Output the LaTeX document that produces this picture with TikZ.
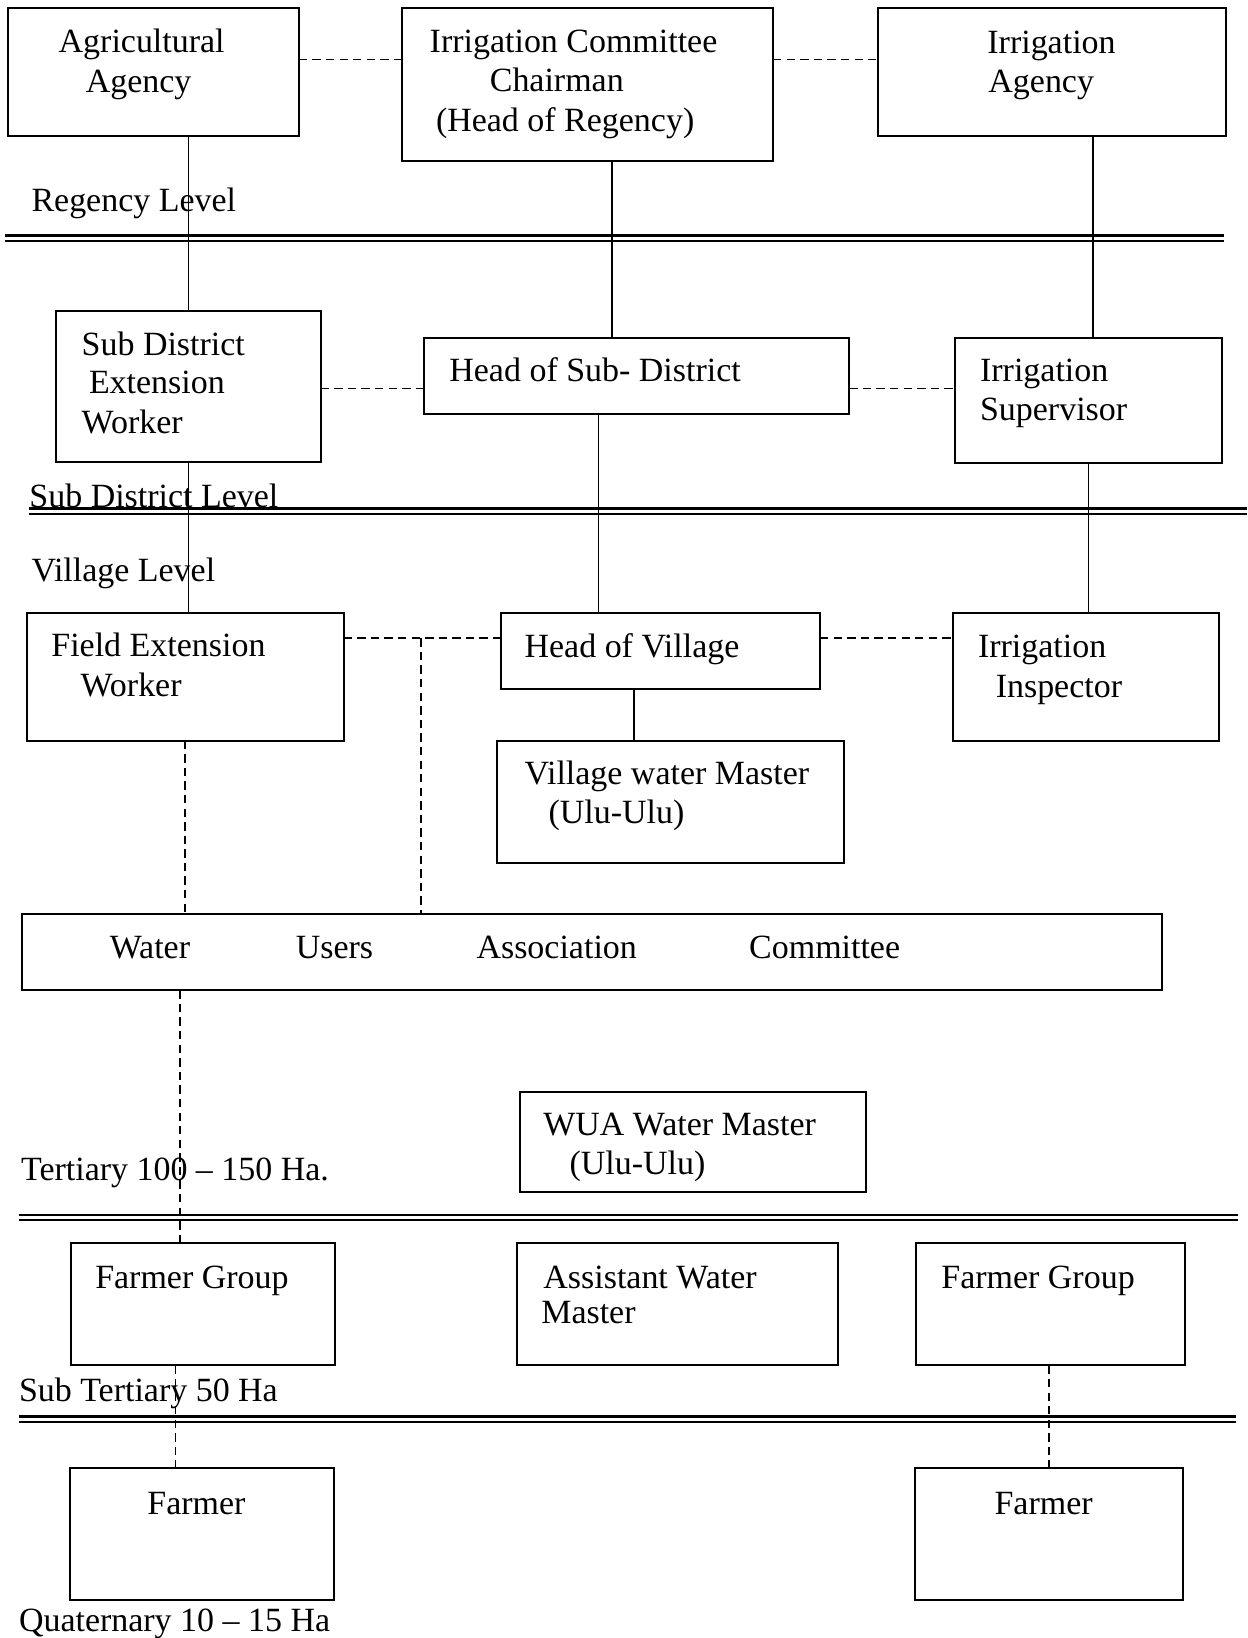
\documentclass[tikz,border=0pt]{standalone}
\usepackage{fontspec}
\setmainfont{Liberation Serif}
\begin{document}
\begin{tikzpicture}[x=1pt,y=-1pt,
  box/.style={draw, rectangle, line width=1.9pt, inner sep=0pt, outer sep=0pt},
  txt/.style={inner sep=0pt, font=\fontsize{32.5}{38}\selectfont},
  link/.style={line width=1.6pt},
  dlink/.style={line width=1.6pt, dash pattern=on 8pt off 5pt},
  rule/.style={line width=2.4pt}]
\useasboundingbox (0,0) rectangle (1194,1568);

% box with top-left (x1,y1) and bottom-right (x2,y2)
\newcommand\mkbox[5]{\node[box, anchor=north west,
  minimum width=#4pt-#2pt, minimum height=#5pt-#3pt] (#1) at (#2,#3) {};}
% text placed by its baseline start
\newcommand\txtat[4]{\node[txt, anchor=base west] (#1) at (#2,#3+2) {#4};}
\newcommand\txtmid[4]{\node[txt, anchor=base] (#1) at (#2,#3+2) {#4};}

% ---- Regency level ----
\mkbox{agri}{8}{8}{286}{130}
\txtat{agri1}{56}{48}{Agricultural}
\txtat{agri2}{82}{87}{Agency}

\mkbox{chair}{385}{8}{740}{154}
\txtmid{chair1}{549}{48}{Irrigation Committee}
\txtmid{chair2}{533}{86}{Chairman}
\txtmid{chair3}{541}{124}{(Head of Regency)}

\mkbox{iagency}{840}{8}{1174}{130}
\txtat{iag1}{945}{49}{Irrigation}
\txtat{iag2}{946}{87}{Agency}

\txtat{lvlreg}{30}{200}{Regency Level}
\draw[rule] (5,225.5) -- (1172,225.5);
\draw[rule] (5,230.5) -- (1172,230.5);

% ---- Sub district level ----
\mkbox{sdew}{54}{298}{307}{442}
\txtat{sdew1}{78}{338}{Sub District}
\txtat{sdew2}{85}{375}{Extension}
\txtat{sdew3}{78}{413}{Worker}

\mkbox{hsd}{406}{324}{813}{396}
\txtat{hsd1}{430}{363}{Head of Sub- District}

\mkbox{isup}{914}{324}{1170}{443}
\txtat{isup1}{938}{363}{Irrigation}
\txtat{isup2}{938}{401}{Supervisor}

\txtat{lvlsd}{28}{484}{Sub District Level}
\draw[rule] (28,487) -- (1194,487);
\draw[rule] (28,492) -- (1194,492);

% ---- Village level ----
\txtat{lvlvil}{30}{555}{Village Level}

\mkbox{few}{26}{587}{329}{709}
\txtat{few1}{49}{626}{Field Extension}
\txtat{few2}{77}{665}{Worker}

\mkbox{hov}{480}{587}{785}{660}
\txtat{hov1}{502}{627}{Head of Village}

\mkbox{iinsp}{912}{587}{1167}{709}
\txtat{iinsp1}{936}{627}{Irrigation}
\txtat{iinsp2}{953}{666}{Inspector}

\mkbox{vwm}{476}{709}{808}{826}
\txtat{vwm1}{502}{749}{Village water Master}
\txtat{vwm2}{525}{786}{(Ulu-Ulu)}

\mkbox{wuac}{21}{875}{1112}{948}
\txtat{wuac1}{105}{916}{Water}
\txtat{wuac2}{283}{916}{Users}
\txtat{wuac3}{456}{916}{Association}
\txtat{wuac4}{717}{916}{Committee}

% ---- Tertiary ----
\mkbox{wuawm}{498}{1045}{829}{1141}
\txtat{wuawm1}{520}{1085}{WUA Water Master}
\txtat{wuawm2}{545}{1122}{(Ulu-Ulu)}

\txtat{lvlter}{20}{1128}{Tertiary 100 -- 150 Ha.}
\draw[rule] (18,1163) -- (1185,1163);
\draw[rule] (18,1168) -- (1185,1168);

% ---- Sub tertiary ----
\mkbox{fgl}{68}{1190}{321}{1307}
\txtat{fgl1}{91}{1231}{Farmer Group}

\mkbox{awm}{495}{1190}{802}{1307}
\txtat{awm1}{520}{1231}{Assistant Water}
\txtat{awm2}{518}{1265}{Master}

\mkbox{fgr}{877}{1190}{1134}{1307}
\txtat{fgr1}{901}{1231}{Farmer Group}

\txtat{lvlst}{18}{1340}{Sub Tertiary 50 Ha}
\draw[rule] (18,1356) -- (1183,1356);
\draw[rule] (18,1361) -- (1183,1361);

% ---- Quaternary ----
\mkbox{farml}{67}{1405}{320}{1532}
\txtmid{farml1}{188}{1448}{Farmer}

\mkbox{farmr}{876}{1405}{1132}{1532}
\txtmid{farmr1}{999}{1448}{Farmer}

\txtat{lvlq}{18}{1560}{Quaternary 10 -- 15 Ha}

% ---- connector columns and rows ----
\coordinate (colA) at (180.5,0);
\coordinate (colB) at (586,0);
\coordinate (colB2) at (573,0);
\coordinate (colC) at (1046,0);
\coordinate (colC2) at (1042,0);
\coordinate (colV) at (607,0);
\coordinate (colD) at (177,0);
\coordinate (colD2) at (172,0);
\coordinate (colD3) at (168,0);
\coordinate (colE) at (1004,0);
\coordinate (row1) at (0,57);
\coordinate (row2) at (0,372);
\coordinate (row3) at (0,611);
\coordinate (jn) at (403,611);

% solid lines of authority
\draw[link] (agri.south -| colA) -- (sdew.north -| colA);
\draw[link] (sdew.south -| colA) -- (few.north -| colA);
\draw[link] (chair.south -| colB) -- (hsd.north -| colB);
\draw[link] (hsd.south -| colB2) -- (hov.north -| colB2);
\draw[link] (iagency.south -| colC) -- (isup.north -| colC);
\draw[link] (isup.south -| colC2) -- (iinsp.north -| colC2);
\draw[link] (hov.south -| colV) -- (vwm.north -| colV);

% dashed coordination lines
\draw[dlink] (agri.east |- row1) -- (chair.west |- row1);
\draw[dlink] (chair.east |- row1) -- (iagency.west |- row1);
\draw[dlink] (sdew.east |- row2) -- (hsd.west |- row2);
\draw[dlink] (hsd.east |- row2) -- (isup.west |- row2);
\draw[dlink] (few.east |- row3) -- (hov.west |- row3);
\draw[dlink] (hov.east |- row3) -- (iinsp.west |- row3);
\draw[dlink] (jn) -- (jn |- wuac.north);
\draw[dlink] (few.south -| colD) -- (wuac.north -| colD);
\draw[dlink] (wuac.south -| colD2) -- (fgl.north -| colD2);
\draw[dlink] (fgl.south -| colD3) -- (farml.north -| colD3);
\draw[dlink] (fgr.south -| colE) -- (farmr.north -| colE);
\end{tikzpicture}
\end{document}
